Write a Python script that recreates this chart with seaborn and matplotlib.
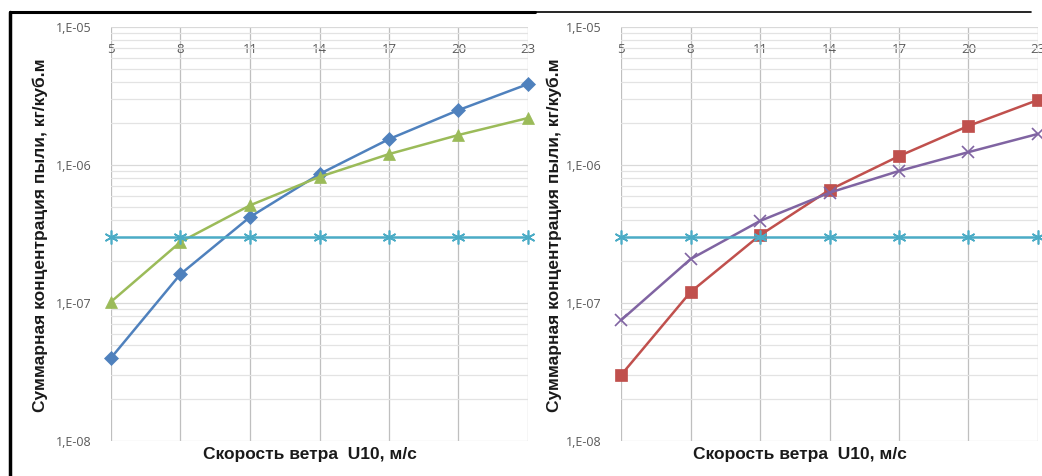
import numpy as np
import pandas as pd
import matplotlib
matplotlib.use("Agg")
import matplotlib.pyplot as plt
from matplotlib.lines import Line2D
import seaborn as sns

# ---- data ----
wind = [5, 8, 11, 14, 17, 20, 23]
left_blue = [4.0e-8, 1.62e-7, 4.2e-7, 8.6e-7, 1.54e-6, 2.5e-6, 3.86e-6]
left_green = [1.02e-7, 2.77e-7, 5.1e-7, 8.2e-7, 1.2e-6, 1.65e-6, 2.19e-6]
right_red = [3.0e-8, 1.2e-7, 3.1e-7, 6.6e-7, 1.16e-6, 1.92e-6, 2.96e-6]
right_purple = [7.5e-8, 2.08e-7, 3.93e-7, 6.3e-7, 9.05e-7, 1.24e-6, 1.68e-6]
limit = [3.0e-7] * 7
ytick_vals = [1e-8, 1e-7, 1e-6, 1e-5]
ytick_labels = ["1,E-08", "1,E-07", "1,E-06", "1,E-05"]
xlabel = "Скорость ветра  U10, м/с"
ylabel = "Суммарная концентрация пыли, кг/куб.м"

sns.set_theme(style="white")
plt.rcParams["font.family"] = ["Liberation Sans", "DejaVu Sans"]

fig = plt.figure(figsize=(10.42, 4.76), dpi=100)
W, H = 1042, 476
def rect(x0, x1, y0, y1):
    return [x0 / W, 1 - y1 / H, (x1 - x0) / W, (y1 - y0) / H]

ax1 = fig.add_axes(rect(111, 528, 27, 441))
ax2 = fig.add_axes(rect(621, 1038, 27, 441))

series_left = [
    ("s1", left_blue, "#4F81BD", "D", 7),
    ("s2", left_green, "#9BBB59", "^", 9),
    ("s3", limit, "#4BACC6", (6, 2, 0), 10),
]
series_right = [
    ("s1", right_red, "#C0504D", "s", 8),
    ("s2", right_purple, "#8064A2", "x", 9),
    ("s3", limit, "#4BACC6", (6, 2, 0), 10),
]

for ax, series in [(ax1, series_left), (ax2, series_right)]:
    ax.set_yscale("log")
    ax.set_ylim(1e-8, 1e-5)
    ax.set_xlim(5, 23)
    for name, vals, col, mk, ms in series:
        df = pd.DataFrame({"x": wind, "y": vals})
        sns.lineplot(data=df, x="x", y="y", ax=ax, color=col, linewidth=1.8,
                     marker=mk, markersize=ms, markeredgecolor=col,
                     markeredgewidth=1.2 if mk in ("x", (6, 2, 0)) else 0.5,
                     clip_on=False, zorder=3)
    for s in ax.spines.values():
        s.set_visible(False)
    ax.set_xticks(wind)
    ax.set_xticklabels([str(v) for v in wind])
    ax.set_yticks(ytick_vals)
    ax.set_yticklabels(ytick_labels)
    ax.yaxis.set_minor_locator(matplotlib.ticker.LogLocator(base=10, subs=np.arange(2, 10)))
    ax.yaxis.set_minor_formatter(matplotlib.ticker.NullFormatter())
    ax.grid(True, which="major", axis="x", color="#bfbfbf", linewidth=0.9)
    ax.grid(True, which="major", axis="y", color="#d9d9d9", linewidth=0.9)
    ax.grid(True, which="minor", axis="y", color="#e3e3e3", linewidth=0.9)
    ax.set_axisbelow(True)
    ax.tick_params(axis="x", which="both", top=True, labeltop=True, bottom=False,
                   labelbottom=False, length=0, pad=-21, labelsize=9.5,
                   labelcolor="#595959")
    ax.tick_params(axis="y", which="both", length=0, pad=14, labelsize=9,
                   labelcolor="#595959")
    for lab in ax.get_xticklabels() + ax.get_yticklabels():
        lab.set_fontfamily(["Open Sans", "DejaVu Sans"])
    ax.set_xlabel("")
    ax.set_ylabel("")

# axis titles
fig.text(310 / W, 1 - 455 / H, xlabel, ha="center", va="center",
         fontsize=12.5, fontweight="bold", color="#1a1a1a")
fig.text(800 / W, 1 - 455 / H, xlabel, ha="center", va="center",
         fontsize=12.5, fontweight="bold", color="#1a1a1a")
fig.text(40 / W, 1 - 235 / H, ylabel, ha="center", va="center", rotation=90,
         fontsize=12.5, fontweight="bold", color="#1a1a1a")
fig.text(554 / W, 1 - 235 / H, ylabel, ha="center", va="center", rotation=90,
         fontsize=12.5, fontweight="bold", color="#1a1a1a")

# screenshot frame lines
fig.add_artist(Line2D([10 / W, 10 / W], [0, 1 - 12 / H], color="black", linewidth=2.5,
                      transform=fig.transFigure))
fig.add_artist(Line2D([10 / W, 535 / W], [1 - 12 / H, 1 - 12 / H], color="black",
                      linewidth=2.2, transform=fig.transFigure))
fig.add_artist(Line2D([535 / W, 1031 / W], [1 - 12 / H, 1 - 12 / H], color="black",
                      linewidth=1.2, transform=fig.transFigure))

fig.savefig("out.png", dpi=100)
